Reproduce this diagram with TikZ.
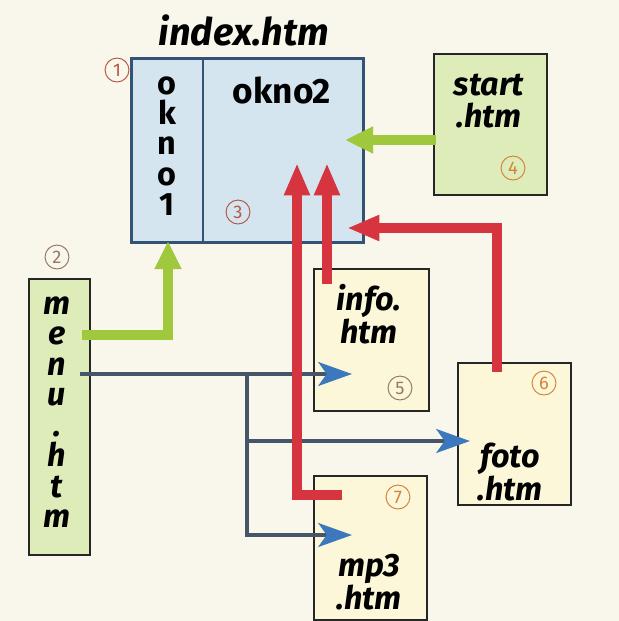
\documentclass[tikz,border=0pt]{standalone}
\usepackage{fontspec}
\setmainfont{Fira Sans}
\usetikzlibrary{arrows.meta, positioning, calc}

\definecolor{paper}{RGB}{249,246,236}
\definecolor{winblue}{RGB}{212,229,240}
\definecolor{winline}{RGB}{52,82,118}
\definecolor{pagegreen}{RGB}{222,236,186}
\definecolor{pageyellow}{RGB}{251,247,216}
\definecolor{linkgreen}{RGB}{160,200,60}
\definecolor{linkred}{RGB}{214,52,62}
\definecolor{linkblue}{RGB}{60,120,190}
\definecolor{treeline}{RGB}{70,85,105}
\definecolor{numred}{RGB}{180,90,70}
\definecolor{numorange}{RGB}{214,130,60}
\definecolor{numgray}{RGB}{150,120,100}

\begin{document}
\begin{tikzpicture}[x=0.025cm, y=-0.025cm,
    page/.style={draw=black!85, line width=1.5pt, inner sep=0pt, anchor=north west},
    num/.style={circle, draw=#1, text=#1, line width=0.7pt, inner sep=0pt,
        minimum size=17pt, font=\fontsize{13}{13}\selectfont},
    lbl/.style={inner sep=0pt, align=center, font=\bfseries\itshape\fontsize{23}{22.5}\selectfont},
    greenlink/.style={linkgreen, line width=7pt, -{Triangle[length=20pt, width=18pt]}},
    redlink/.style={linkred, line width=7pt, -{Triangle[length=23pt, width=17pt]}},
    bluelink/.style={treeline, line width=2.4pt, -{Stealth[length=24pt, width=17pt, inset=6pt, color=linkblue]}}]
    % Paper
    \fill[paper] (0,0) rectangle (619,621);
    \useasboundingbox (0,0) rectangle (619,621);
    % Frameset index.htm
    \node[page, draw=winline, line width=2.1pt, fill=winblue,
        minimum width=5.8cm, minimum height=4.6cm] (index) at (130,57) {};
    \draw[winline, line width=2.1pt] (203,57) -- (203,241);
    \node[lbl, font=\bfseries\itshape\fontsize{27}{27}\selectfont] (title) at (244,30) {index.htm};
    \node[lbl, font=\bfseries\fontsize{25}{25}\selectfont] (okno2) at (282,90) {okno2};
    \node[lbl, font=\bfseries\fontsize{23}{21.6}\selectfont] (okno1) at (167,146) {o\\k\\n\\o\\1};
    % Pages
    \node[page, fill=pagegreen, minimum width=2.825cm, minimum height=3.525cm] (start) at (433,53) {};
    \node[lbl] (startlbl) at (489,101) {start\\.htm};
    \node[page, fill=pagegreen, minimum width=1.525cm, minimum height=6.9cm] (menu) at (28,278) {};
    \node[lbl, font=\bfseries\itshape\fontsize{23}{21.7}\selectfont] (menulbl) at (57,412) {m\\e\\n\\u\\.\\h\\t\\m};
    \node[page, fill=pageyellow, minimum width=2.875cm, minimum height=3.55cm] (info) at (313,268) {};
    \node[lbl] (infolbl) at (369,314) {info.\\htm};
    \node[page, fill=pageyellow, minimum width=2.825cm, minimum height=3.55cm] (foto) at (457,362) {};
    \node[lbl] (fotolbl) at (510,472) {foto\\.htm};
    \node[page, fill=pageyellow, minimum width=2.825cm, minimum height=3.6cm] (mp3) at (313,475) {};
    \node[lbl] (mp3lbl) at (369,582) {mp3\\.htm};
    % Numbers
    \node[num=numred] (n1) at (117,70) {1};
    \node[num=numgray] (n2) at (57,257) {2};
    \node[num=numred] (n3) at (238,212) {3};
    \node[num=numorange] (n4) at (513,168) {4};
    \node[num=numgray] (n5) at (400,388) {5};
    \node[num=numorange] (n6) at (544,383) {6};
    \node[num=numorange] (n7) at (398,497) {7};
    % Link ends
    \coordinate (menuG) at (82,335);
    \coordinate (menuB) at (80,374);
    \coordinate (okno1in) at (168,241);
    \coordinate (startG) at (436,140);
    \coordinate (okno2G) at (345,140);
    \coordinate (fork) at (247,374);
    \coordinate (infoin) at (352,374);
    \coordinate (fotoin) at (470,441);
    \coordinate (mp3in) at (352,535);
    \coordinate (infoR) at (327,284);
    \coordinate (mp3R) at (342,495);
    \coordinate (fotoR) at (497,372);
    \coordinate (okno2a) at (297,163);
    \coordinate (okno2b) at (327,163);
    \coordinate (okno2c) at (347,228);
    % Green links
    \draw[greenlink] (menuG) -| (okno1in);
    \draw[greenlink] (startG) -- (okno2G);
    % Blue links
    \draw[bluelink] (menuB) -- (infoin);
    \draw[bluelink] (fork) |- (mp3in);
    \draw[bluelink] (fork |- fotoin) -- (fotoin);
    % Red links
    \draw[redlink] (mp3R) -| (okno2a);
    \draw[redlink] (infoR) -- (okno2b);
    \draw[redlink] (fotoR) |- (okno2c);
\end{tikzpicture}
\end{document}
